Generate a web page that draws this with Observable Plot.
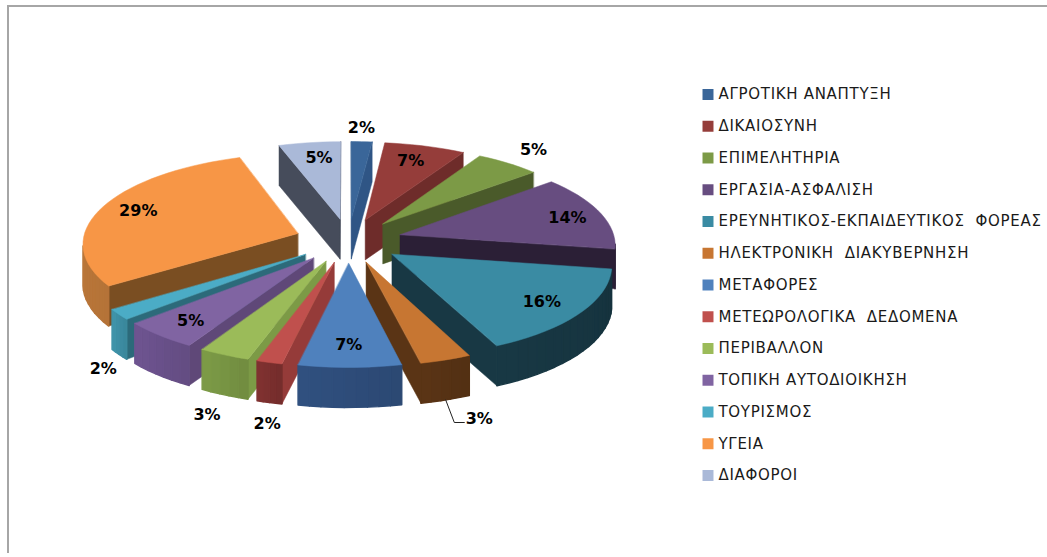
<!DOCTYPE html>
<html>
<head>
<meta charset="utf-8">
<script src="https://cdn.jsdelivr.net/npm/d3@7"></script>
<script src="https://cdn.jsdelivr.net/npm/@observablehq/plot@0.6"></script>
<style>
html,body{margin:0;padding:0;background:#fff;overflow:hidden}
svg{display:block}
</style>
</head>
<body>
<div id="chart"></div>
<script>
const categories = ["ΑΓΡΟΤΙΚΗ ΑΝΑΠΤΥΞΗ","ΔΙΚΑΙΟΣΥΝΗ","ΕΠΙΜΕΛΗΤΗΡΙΑ","ΕΡΓΑΣΙΑ-ΑΣΦΑΛΙΣΗ","ΕΡΕΥΝΗΤΙΚΟΣ-ΕΚΠΑΙΔΕΥΤΙΚΟΣ  ΦΟΡΕΑΣ","ΗΛΕΚΤΡΟΝΙΚΗ  ΔΙΑΚΥΒΕΡΝΗΣΗ","ΜΕΤΑΦΟΡΕΣ","ΜΕΤΕΩΡΟΛΟΓΙΚΑ  ΔΕΔΟΜΕΝΑ","ΠΕΡΙΒΑΛΛΟΝ","ΤΟΠΙΚΗ ΑΥΤΟΔΙΟΙΚΗΣΗ","ΤΟΥΡΙΣΜΟΣ","ΥΓΕΙΑ","ΔΙΑΦΟΡΟΙ"];
const shares = [1.75,6.8,5.4,13.6,15.6,3.4,6.8,1.7,3.4,5.1,1.9,29.4,5.2];
const topColors = ["#3A6699","#953D3A","#7C9A46","#674D80","#3A8BA3","#C77632","#4F81BD","#C0504D","#9BBB59","#8064A2","#4BACC6","#F79646","#AAB9D8"];
const cutColors = ["#2F5585","#6E2C2A","#4A5A2A","#2B1F36","#183844","#5A3415","#2F5585","#953B39","#7C9A46","#5F4878","#2C6A7A","#7A4E22","#464C5B"];
const wallColors = ["#2F5585","#6E2C2A","#4A5A2A","#2B1F36","#183844","#5A3415","#30507F","#7F3130","#7C9A46","#6E5490","#3F93A9","#C9803E","#464C5B"];
const labelRadius = [1.454,1.036,1.487,1.078,1.063,1.745,1.047,1.738,1.729,1.067,1.608,1.069,1.038];
const labelShift = [-0.45,-0.7,-0.4,1.1,0.5,1.7,0.2,-4.6,-5.6,-0.3,-13.7,0.5,1];

// pie geometry: exploded disc seen in perspective
const cx = 348, cy = 240, R = 215, flat = 89, persp = 0.099, burst = 0.25, depth = 40;
const rad = Math.PI / 180;
function project(u, v) {
  const s = 1 / (1 - persp * v);
  return [cx + u * R * s, cy + flat * v * s];
}
const total = d3.sum(shares);
let acc = 0;
const slices = shares.map((value, i) => {
  const a0 = acc / total * 360; acc += value;
  const a1 = acc / total * 360;
  return {i, value, a0, a1, mid: (a0 + a1) / 2};
});
const faces = [];
let faceId = 0;
function pushFace(points, shade, edge) {
  const id = faceId++;
  for (const [x, y] of points) faces.push({id, x, y, shade, edge});
}
const order = slices.slice().sort((p, q) => Math.cos(q.mid * rad) - Math.cos(p.mid * rad));
for (const sl of order) {
  const ox = burst * Math.sin(sl.mid * rad), oy = -burst * Math.cos(sl.mid * rad);
  const outline = [{p: project(ox, oy), wall: false}];
  const steps = Math.max(4, Math.ceil((sl.a1 - sl.a0) / 3));
  for (let k = 0; k <= steps; k++) {
    const t = k / steps, a = (sl.a0 + (sl.a1 - sl.a0) * t) * rad;
    outline.push({p: project(ox + Math.sin(a), oy - Math.cos(a)), wall: k > 0, t});
  }
  const n = outline.length;
  for (let k = 0; k < n; k++) {
    const A = outline[k], B = outline[(k + 1) % n];
    const isWall = B.wall && k + 1 < n;
    const quad = [A.p, B.p, [B.p[0], B.p[1] + depth], [A.p[0], A.p[1] + depth]];
    let area = 0;
    for (let j = 0; j < 4; j++) {
      const P = quad[j], Q = quad[(j + 1) % 4];
      area += P[0] * Q[1] - Q[0] * P[1];
    }
    if (area < 0) {
      const shade = isWall
        ? d3.color(wallColors[sl.i]).darker(0.3 * (1 - B.t)).formatHex()
        : cutColors[sl.i];
      pushFace(quad, shade, isWall ? 1.4 : 0.5);
    }
  }
  pushFace(outline.map(o => o.p), topColors[sl.i], 0.5);
}

const pctLabels = slices.map(sl => {
  const a = (sl.mid + labelShift[sl.i]) * rad, r = labelRadius[sl.i];
  const [x, y] = project(r * Math.sin(a), -r * Math.cos(a));
  return {x, y, text: d3.format(".0f")(sl.value) + "%"};
});

// leader line of the slice labelled from outside with a connector
const led = slices[5], ledLabel = pctLabels[5];
const ledA = led.mid * rad;
const ledStart = project((1 + burst) * Math.sin(ledA), -(1 + burst) * Math.cos(ledA));
const leader = [
  {x: ledStart[0], y: ledStart[1] + depth},
  {x: ledLabel.x - 25, y: ledLabel.y + 4},
  {x: ledLabel.x - 15, y: ledLabel.y + 4}
];

const legend = categories.map((name, i) => ({name, color: topColors[i], y: 94 + i * 31.75}));

const chart = Plot.plot({
  width: 1047, height: 557,
  margin: 0,
  x: {domain: [0, 1047], range: [0, 1047], axis: null},
  y: {domain: [0, 557], range: [0, 557], axis: null},
  style: {background: "#fff"},
  marks: [
    Plot.ruleY([5.5], {x1: 7, x2: 1047, stroke: "#a6a6a6", strokeWidth: 2}),
    Plot.ruleX([7.5], {y1: 5, y2: 553, stroke: "#a6a6a6", strokeWidth: 2}),
    Plot.line(faces, {x: "x", y: "y", z: "id", fill: d => d.shade, stroke: d => d.shade, strokeWidth: "edge", curve: "linear-closed"}),
    Plot.line(leader, {x: "x", y: "y", stroke: "#222", strokeWidth: 1}),
    Plot.text(pctLabels, {x: "x", y: "y", text: "text", fontSize: 16, fontWeight: 700, fontFamily: "DejaVu Sans", fill: "#000"}),
    Plot.dot(legend, {x: () => 707.5, y: "y", symbol: "square", r: 6.2, fill: "color", stroke: "none"}),
    Plot.text(legend, {x: () => 718, y: "y", text: "name", textAnchor: "start", fontSize: 15, fontFamily: "DejaVu Sans", fill: "#1a1a1a"})
  ]
});
d3.select(chart).selectAll("text")
  .filter(function () { return categories.includes(this.textContent); })
  .style("letter-spacing", "0.7px");
document.getElementById("chart").appendChild(chart);
</script>
</body>
</html>
